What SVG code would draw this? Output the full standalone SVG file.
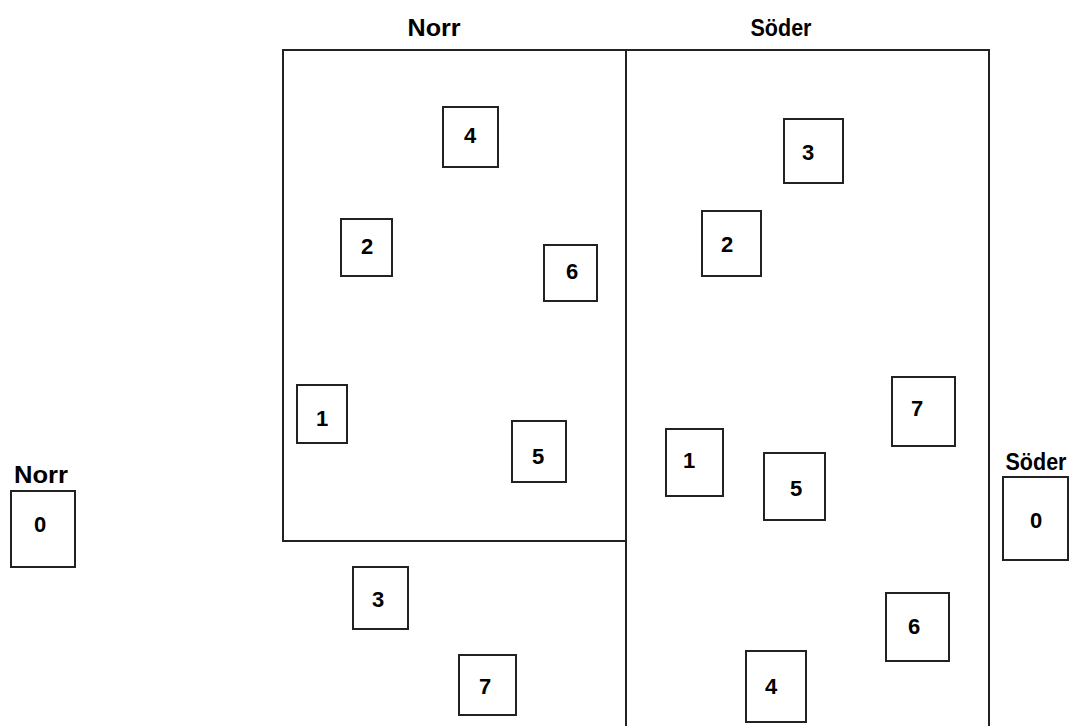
<svg xmlns="http://www.w3.org/2000/svg" width="1078" height="726" viewBox="0 0 1078 726">
<style>
.box{fill:#fff;stroke:#222;stroke-width:2}
.ln{fill:none;stroke:#222;stroke-width:2}
.t{font-family:"Liberation Sans",Arial,sans-serif;font-weight:bold;font-size:22px;fill:#000;text-anchor:middle}
.h{font-family:"Liberation Sans",Arial,sans-serif;font-weight:bold;font-size:23px;fill:#000;text-anchor:middle}
</style>
<rect width="1078" height="726" fill="#fff"/>
<g id="regions">
<rect id="norr-area" class="ln" x="283" y="50" width="343" height="491"/>
<path id="soder-area" class="ln" d="M626 726 V50 H989 V726"/>
<text class="h" x="434" y="36" textLength="53" lengthAdjust="spacingAndGlyphs">Norr</text>
<text class="h" x="781" y="36" textLength="61" lengthAdjust="spacingAndGlyphs">Söder</text>
</g>
<g id="norr0"><rect class="box" x="11" y="491" width="64" height="76"/><text class="h" x="41" y="483" textLength="54" lengthAdjust="spacingAndGlyphs">Norr</text><text class="t" x="40" y="532">0</text></g>
<g id="soder0"><rect class="box" x="1003" y="477" width="65" height="83"/><text class="h" x="1036" y="470" textLength="61" lengthAdjust="spacingAndGlyphs">Söder</text><text class="t" x="1036" y="528">0</text></g>
<g id="n4"><rect class="box" x="443" y="107" width="55" height="60"/><text class="t" x="470" y="143">4</text></g>
<g id="n2"><rect class="box" x="341" y="219" width="51" height="57"/><text class="t" x="367" y="254">2</text></g>
<g id="n6"><rect class="box" x="544" y="245" width="53" height="56"/><text class="t" x="572" y="279">6</text></g>
<g id="n1"><rect class="box" x="297" y="385" width="50" height="58"/><text class="t" x="322" y="426">1</text></g>
<g id="n5"><rect class="box" x="512" y="421" width="54" height="61"/><text class="t" x="538" y="464">5</text></g>
<g id="n3"><rect class="box" x="353" y="567" width="55" height="62"/><text class="t" x="378" y="607">3</text></g>
<g id="n7"><rect class="box" x="459" y="655" width="57" height="60"/><text class="t" x="485" y="694">7</text></g>
<g id="s3"><rect class="box" x="784" y="119" width="59" height="64"/><text class="t" x="808" y="160">3</text></g>
<g id="s2"><rect class="box" x="702" y="211" width="59" height="65"/><text class="t" x="727" y="252">2</text></g>
<g id="s7"><rect class="box" x="892" y="377" width="63" height="69"/><text class="t" x="917" y="416">7</text></g>
<g id="s1"><rect class="box" x="666" y="429" width="57" height="67"/><text class="t" x="689" y="468">1</text></g>
<g id="s5"><rect class="box" x="764" y="453" width="61" height="67"/><text class="t" x="796" y="496">5</text></g>
<g id="s6"><rect class="box" x="886" y="593" width="63" height="68"/><text class="t" x="914" y="634">6</text></g>
<g id="s4"><rect class="box" x="746" y="651" width="60" height="71"/><text class="t" x="771" y="694">4</text></g>
<g id="connectors"></g>
</svg>
